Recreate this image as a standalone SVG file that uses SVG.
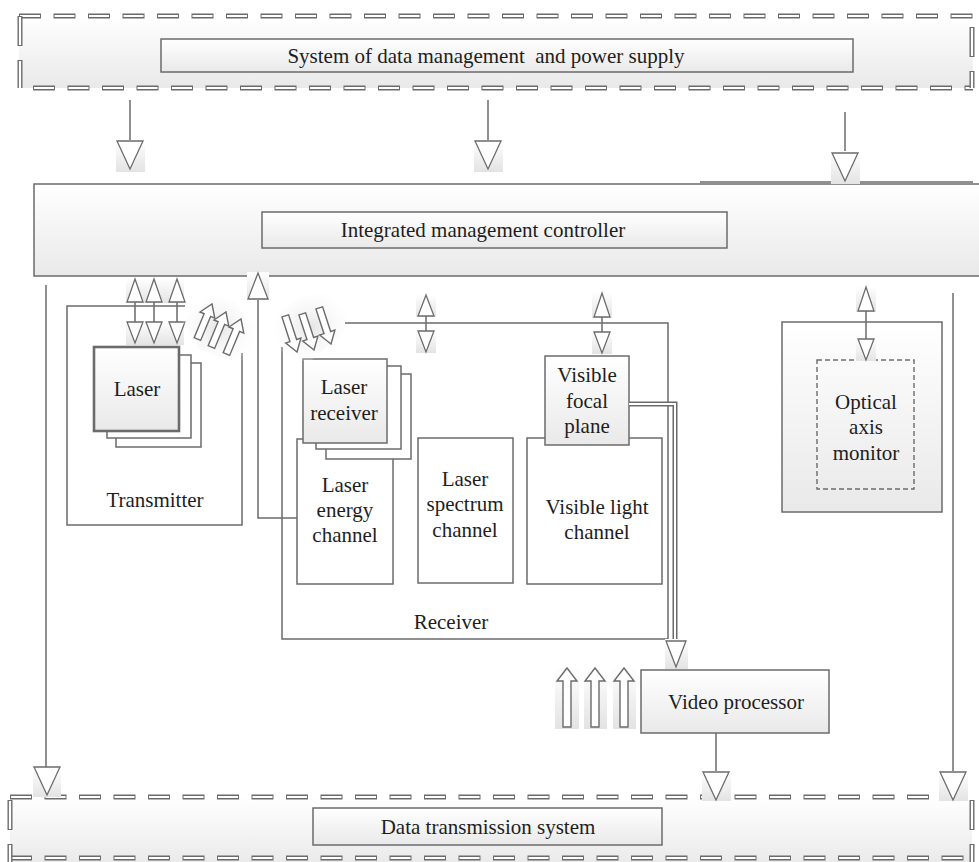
<svg xmlns="http://www.w3.org/2000/svg" width="979" height="862" viewBox="0 0 979 862">
<defs>
<linearGradient id="g" x1="0" y1="0" x2="0" y2="1"><stop offset="0" stop-color="#ffffff"/><stop offset="1" stop-color="#e9e9e9"/></linearGradient>
<linearGradient id="gs" x1="0" y1="0" x2="0" y2="1"><stop offset="0" stop-color="#ffffff"/><stop offset="1" stop-color="#e3e3e3"/></linearGradient>
<radialGradient id="gf" cx="0.5" cy="0.5" r="0.6"><stop offset="0" stop-color="#e4e4e4"/><stop offset="1" stop-color="#ffffff" stop-opacity="0"/></radialGradient>
<path id="ba" d="M0,0 L8,12 L3.5,12 L3.5,38 L-3.5,38 L-3.5,12 L-8,12 Z" fill="#fff" stroke="#6b6b6b" stroke-width="1.4" stroke-linejoin="miter"/>
<path id="bu" d="M0,0 L10,13 L4,13 L4,59 L-4,59 L-4,13 L-10,13 Z" fill="#fff" stroke="#6b6b6b" stroke-width="1.4" stroke-linejoin="miter"/>
<path id="tD" d="M-13,0 H13 L0,28 Z" fill="#fff" stroke="#6b6b6b" stroke-width="1.3"/>
</defs>
<style>
.ln{fill:none;stroke:#6b6b6b;stroke-width:1.5}
.box{fill:#fff;stroke:#6b6b6b;stroke-width:1.5}
.gbox{fill:url(#g);stroke:#6b6b6b;stroke-width:1.5}
.fbox{fill:url(#g);stroke:#6b6b6b;stroke-width:2.6}
.tri{fill:#fff;stroke:#6b6b6b;stroke-width:1.3}
.bg{fill:url(#gs)}
.fan{fill:url(#gf)}
.t{font-family:"Liberation Serif","Times New Roman",serif;font-size:21px;fill:#1e1e1e;text-anchor:middle}
.dOut{fill:none;stroke:#6b6b6b;stroke-width:5;stroke-dasharray:22 12.5}
.dIn{fill:none;stroke:#ffffff;stroke-width:2.2;stroke-dasharray:20 14.5;stroke-dashoffset:-1}
.vOut{fill:none;stroke:#6b6b6b;stroke-width:5;stroke-dasharray:30 14}
.vIn{fill:none;stroke:#ffffff;stroke-width:2.2;stroke-dasharray:28 16;stroke-dashoffset:-1}
.dash{fill:none;stroke:#6b6b6b;stroke-width:1.4;stroke-dasharray:5 3}
</style>

<!-- System of data management and power supply -->
<g id="power-system">
<rect x="19" y="16" width="954" height="72" fill="url(#g)"/>
<path class="dOut" d="M19,16 H973 M33,88 H973"/>
<path class="dIn" d="M19,16 H973 M33,88 H973"/>
<path class="vOut" d="M20,16 V88 M972,27 V88"/>
<path class="vIn" d="M20,16 V88 M972,27 V88"/>
<rect class="gbox" x="161" y="39" width="692" height="33"/>
<text class="t" x="486" y="63" style="white-space:pre">System of data management  and power supply</text>
</g>

<!-- Integrated management controller -->
<g id="controller">
<rect class="gbox" x="34" y="184" width="960" height="92"/>
<rect class="gbox" x="262" y="212" width="465" height="36"/>
<text class="t" x="483" y="237">Integrated management controller</text>
</g>

<!-- Transmitter -->
<g id="transmitter">
<path class="ln" d="M185,306 H67 V525 H242 V353"/>
<text class="t" x="155" y="507">Transmitter</text>
</g>
<g id="laser">
<rect class="box" x="116" y="363" width="85" height="84"/>
<rect class="box" x="107" y="355" width="84" height="83"/>
<rect class="fbox" x="94" y="347" width="85" height="84"/>
<text class="t" x="137" y="396">Laser</text>
</g>

<!-- Receiver -->
<g id="receiver">
<path class="ln" d="M345,323 H668 V639 H282 V347"/>
<text class="t" x="451" y="629">Receiver</text>
</g>
<g id="laser-energy-channel">
<rect class="box" x="297" y="439" width="96" height="145"/>
<text class="t" x="345" y="492">Laser</text>
<text class="t" x="345" y="517">energy</text>
<text class="t" x="345" y="542">channel</text>
</g>
<g id="laser-receiver">
<rect class="box" x="326" y="374" width="85" height="85"/>
<rect class="box" x="316" y="366" width="85" height="83"/>
<rect class="gbox" x="303" y="359" width="84" height="84"/>
<text class="t" x="344" y="394">Laser</text>
<text class="t" x="344" y="420">receiver</text>
</g>
<g id="laser-spectrum-channel">
<rect class="box" x="418" y="438" width="95" height="145"/>
<text class="t" x="465" y="486">Laser</text>
<text class="t" x="465" y="511">spectrum</text>
<text class="t" x="465" y="537">channel</text>
</g>
<g id="visible-light-channel">
<rect class="box" x="527" y="438" width="135" height="146"/>
<text class="t" x="597" y="514">Visible light</text>
<text class="t" x="597" y="539">channel</text>
</g>
<g id="visible-focal-plane">
<rect class="gbox" x="545" y="356" width="84" height="89"/>
<text class="t" x="587" y="382">Visible</text>
<text class="t" x="587" y="408">focal</text>
<text class="t" x="587" y="433">plane</text>
</g>

<!-- Optical axis monitor -->
<g id="optical-axis-monitor">
<rect class="gbox" x="782" y="322" width="160" height="190"/>
<rect class="dash" x="817" y="360" width="97" height="129"/>
<text class="t" x="866" y="409">Optical</text>
<text class="t" x="866" y="434">axis</text>
<text class="t" x="866" y="460">monitor</text>
</g>

<!-- Video processor -->
<g id="video-processor">
<rect class="gbox" x="641" y="670" width="188" height="63"/>
<text class="t" x="736" y="709">Video processor</text>
</g>

<!-- Data transmission system -->
<g id="data-transmission">
<rect x="10" y="797" width="962" height="70" fill="url(#g)"/>
<path class="dOut" d="M10,797 H972 M10,858 H972"/>
<path class="dIn" d="M10,797 H972 M10,858 H972"/>
<path class="vOut" d="M10,800 V862 M972,800 V862"/>
<path class="vIn" d="M10,800 V862 M972,800 V862"/>
<rect class="gbox" x="313" y="808" width="349" height="37"/>
<text class="t" x="488" y="834">Data transmission system</text>
</g>

<!-- Connectors -->
<g id="connectors">
<!-- power system to controller -->
<line class="ln" x1="130" y1="100" x2="130" y2="140"/>
<rect class="bg" x="116" y="140" width="29" height="32"/>
<use href="#tD" x="130" y="141"/>
<line class="ln" x1="488" y1="100" x2="488" y2="140"/>
<rect class="bg" x="474" y="140" width="29" height="32"/>
<use href="#tD" x="488" y="141"/>
<line class="ln" x1="845" y1="112" x2="845" y2="152"/>
<line class="ln" x1="700" y1="182" x2="973" y2="182"/>
<rect class="bg" x="831" y="151" width="29" height="33"/>
<use href="#tD" x="845" y="153"/>

<!-- controller to data transmission (left and right) -->
<line class="ln" x1="46" y1="285" x2="46" y2="768"/>
<rect class="bg" x="33" y="767" width="28" height="30"/>
<use href="#tD" x="47" y="767"/>
<line class="ln" x1="953" y1="293" x2="953" y2="772"/>
<rect class="bg" x="939" y="771" width="29" height="30"/>
<use href="#tD" x="953" y="772"/>

<!-- transmitter bi-arrows -->
<g>
<rect class="bg" x="126" y="278" width="58" height="25"/>
<rect class="bg" x="126" y="321" width="58" height="24"/>
<path class="tri" d="M127,302 H143 L135,279 Z M146,302 H162 L154,279 Z M169,302 H185 L177,279 Z"/>
<path class="ln" d="M135,302 V322 M154,302 V322 M177,302 V322"/>
<path class="tri" d="M127,322 H143 L135,343 Z M146,322 H162 L154,343 Z M169,322 H185 L177,343 Z"/>
</g>

<!-- transmitter slanted emit arrows -->
<polygon class="fan" points="182,320 208,294 234,302 254,326 252,354 236,364 198,348"/>
<use href="#ba" transform="translate(212,304) rotate(22.6)"/>
<use href="#ba" transform="translate(226,312) rotate(22.6)"/>
<use href="#ba" transform="translate(241,319) rotate(22.6)"/>

<!-- receiver slanted incoming arrows -->
<polygon class="fan" points="275,315 300,296 348,292 344,332 312,360 288,362 274,338"/>
<use href="#ba" transform="translate(297,352) rotate(162)"/>
<use href="#ba" transform="translate(314,350) rotate(162)"/>
<use href="#ba" transform="translate(331,344) rotate(162)"/>

<!-- laser energy channel to controller -->
<path class="ln" d="M297,518 H258 V299"/>
<rect class="bg" x="247" y="272" width="22" height="28"/>
<path class="tri" d="M248,299 H268 L258,273 Z"/>

<!-- receiver bi-arrow -->
<rect class="bg" x="416" y="294" width="20" height="23"/>
<rect class="bg" x="416" y="330" width="20" height="23"/>
<path class="tri" d="M418,316 H434 L426,295 Z"/>
<line class="ln" x1="426" y1="316" x2="426" y2="331"/>
<path class="tri" d="M418,331 H434 L426,352 Z"/>

<!-- focal plane bi-arrow -->
<rect class="bg" x="592" y="292" width="20" height="26"/>
<rect class="bg" x="592" y="331" width="20" height="23"/>
<path class="tri" d="M594,317 H610 L602,293 Z"/>
<line class="ln" x1="602" y1="317" x2="602" y2="332"/>
<path class="tri" d="M594,332 H610 L602,353 Z"/>

<!-- optical axis monitor bi-arrow -->
<rect class="bg" x="856" y="286" width="20" height="26"/>
<rect class="bg" x="856" y="338" width="20" height="23"/>
<path class="tri" d="M858,311 H874 L866,287 Z"/>
<line class="ln" x1="866" y1="311" x2="866" y2="339"/>
<path class="tri" d="M858,339 H874 L866,360 Z"/>

<!-- focal plane to video processor (double line) -->
<path d="M629,404 H675 V641" fill="none" stroke="#6b6b6b" stroke-width="5"/>
<path d="M629,404 H675 V641" fill="none" stroke="#ffffff" stroke-width="2"/>
<rect class="bg" x="665" y="639" width="23" height="30"/>
<path class="tri" d="M666,641 H686 L676,667 Z"/>

<!-- incoming video arrows -->
<rect class="bg" x="555" y="667" width="24" height="62"/>
<rect class="bg" x="584" y="667" width="23" height="62"/>
<rect class="bg" x="613" y="667" width="23" height="62"/>
<use href="#bu" x="567" y="668"/>
<use href="#bu" x="595" y="668"/>
<use href="#bu" x="624" y="668"/>

<!-- video processor to data transmission -->
<line class="ln" x1="716" y1="733" x2="716" y2="772"/>
<rect class="bg" x="702" y="771" width="29" height="30"/>
<use href="#tD" x="716" y="772"/>
</g>
</svg>
